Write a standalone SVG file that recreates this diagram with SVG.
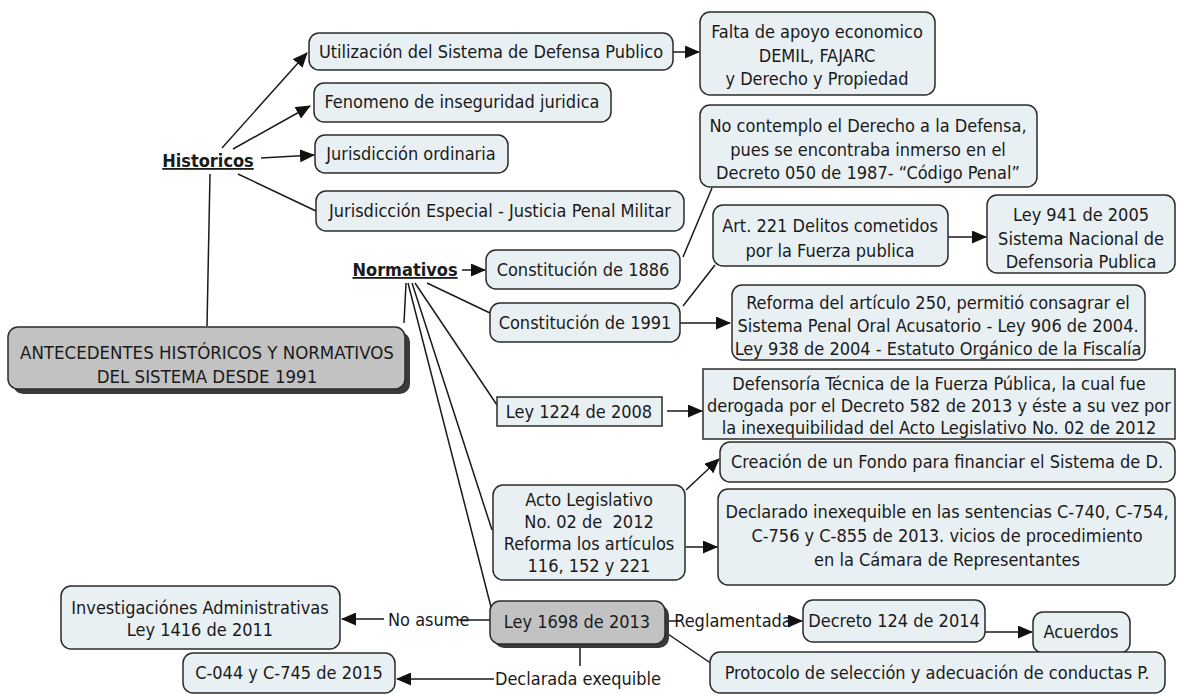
<svg xmlns="http://www.w3.org/2000/svg" width="1180" height="695" viewBox="0 0 1180 695">
<style>
.b{fill:#e9f0f3;stroke:#2b2b2b;stroke-width:1.5}
.g{fill:#c2c2c2;stroke:#2b2b2b;stroke-width:1.5}
.s{fill:#3a3a3a}
text{font-family:"DejaVu Sans Condensed","DejaVu Sans",sans-serif;font-size:18px;fill:#1a1a1a;text-anchor:middle}
.l{text-anchor:start}
.m{font-size:18.5px}
.p{white-space:pre}
.h{font-weight:bold;text-decoration:underline;font-size:18px}
.c line,.c path{stroke:#1a1a1a;stroke-width:1.5;fill:none}
.a{marker-end:url(#ar)}
</style>
<defs>
<marker id="ar" markerUnits="userSpaceOnUse" markerWidth="15" markerHeight="13" refX="14" refY="6.5" orient="auto">
<path d="M0,0 L15,6.5 L0,13 Z" fill="#111"/>
</marker>
</defs>
<rect width="1180" height="695" fill="#fff"/>
<g class="c">
<line x1="222" y1="148" x2="307" y2="53" class="a"/>
<line x1="233" y1="149" x2="310" y2="106" class="a"/>
<line x1="261" y1="158" x2="314" y2="155" class="a"/>
<line x1="238" y1="174" x2="316" y2="211"/>
<line x1="210" y1="174" x2="207" y2="326"/>
<line x1="673" y1="52" x2="699" y2="52" class="a"/>
<line x1="683" y1="257" x2="712" y2="188"/>
<line x1="683" y1="306" x2="715" y2="265"/>
<line x1="948" y1="237" x2="986" y2="237" class="a"/>
<line x1="462" y1="270" x2="485" y2="270" class="a"/>
<line x1="680" y1="323" x2="730" y2="323" class="a"/>
<line x1="427" y1="283" x2="490" y2="313"/>
<line x1="415" y1="283" x2="497" y2="405"/>
<line x1="412" y1="283" x2="492" y2="530"/>
<line x1="408" y1="283" x2="491" y2="607"/>
<line x1="406" y1="283" x2="404" y2="323"/>
<line x1="667" y1="411" x2="702" y2="411" class="a"/>
<line x1="686" y1="490" x2="719" y2="459" class="a"/>
<line x1="686" y1="547" x2="717" y2="547" class="a"/>
<line x1="458" y1="620" x2="490" y2="620"/>
<line x1="384" y1="619" x2="342" y2="619" class="a"/>
<line x1="580" y1="647" x2="580" y2="666"/>
<line x1="494" y1="679" x2="397" y2="679" class="a"/>
<line x1="667" y1="621" x2="680" y2="621"/>
<line x1="786" y1="621" x2="802" y2="621" class="a"/>
<line x1="985" y1="632" x2="1032" y2="632" class="a"/>
<line x1="665" y1="632" x2="712" y2="664"/>
</g>
<g id="main">
<rect x="13" y="332" width="397" height="62" rx="10" class="s"/>
<rect x="8" y="327" width="397" height="62" rx="10" class="g"/>
<text x="207" y="359" class="m">ANTECEDENTES HISTÓRICOS Y NORMATIVOS</text>
<text x="207" y="383" class="m">DEL SISTEMA DESDE 1991</text>
</g>
<g id="historicos"><text x="208" y="167" class="h">Historicos</text></g>
<g id="normativos"><text x="405" y="276" class="h">Normativos</text></g>
<g id="utilizacion"><rect x="309" y="33" width="364" height="37" rx="10" class="b"/><text x="491" y="58">Utilización del Sistema de Defensa Publico</text></g>
<g id="fenomeno"><rect x="314" y="83" width="297" height="39" rx="10" class="b"/><text x="462" y="108">Fenomeno de inseguridad juridica</text></g>
<g id="ordinaria"><rect x="315" y="135" width="193" height="38" rx="10" class="b"/><text x="411" y="160">Jurisdicción ordinaria</text></g>
<g id="especial"><rect x="316" y="191" width="368" height="40" rx="10" class="b"/><text x="500" y="217">Jurisdicción Especial - Justicia Penal Militar</text></g>
<g id="falta"><rect x="700" y="12" width="235" height="83" rx="10" class="b"/><text x="817" y="38">Falta de apoyo economico</text><text x="817" y="62">DEMIL, FAJARC</text><text x="817" y="85">y Derecho y Propiedad</text></g>
<g id="nocontemplo"><rect x="700" y="105" width="337" height="82" rx="10" class="b"/><text x="868" y="132">No contemplo el Derecho a la Defensa,</text><text x="868" y="156">pues se encontraba inmerso en el</text><text x="868" y="179">Decreto 050 de 1987- “Código Penal”</text></g>
<g id="art221"><rect x="713" y="205" width="235" height="61" rx="10" class="b"/><text x="830" y="232">Art. 221 Delitos cometidos</text><text x="830" y="257">por la Fuerza publica</text></g>
<g id="ley941"><rect x="987" y="195" width="188" height="78" rx="10" class="b"/><text x="1081" y="221">Ley 941 de 2005</text><text x="1081" y="245">Sistema Nacional de</text><text x="1081" y="268">Defensoria Publica</text></g>
<g id="c1886"><rect x="486" y="250" width="194" height="39" rx="10" class="b"/><text x="583" y="276">Constitución de 1886</text></g>
<g id="c1991"><rect x="490" y="303" width="190" height="39" rx="10" class="b"/><text x="585" y="329">Constitución de 1991</text></g>
<g id="reforma"><rect x="732" y="285" width="413" height="75" rx="10" class="b"/><text x="938" y="309">Reforma del artículo 250, permitió consagrar el</text><text x="938" y="332">Sistema Penal Oral Acusatorio - Ley 906 de 2004.</text><text x="938" y="355">Ley 938 de 2004 - Estatuto Orgánico de la Fiscalía</text></g>
<g id="ley1224"><rect x="497" y="397" width="165" height="29" class="b"/><text x="579" y="418">Ley 1224 de 2008</text></g>
<g id="defensoria"><rect x="703" y="369" width="472" height="70" class="b"/><text x="939" y="390">Defensoría Técnica de la Fuerza Pública, la cual fue</text><text x="939" y="412">derogada por el Decreto 582 de 2013 y éste a su vez por</text><text x="939" y="434">la inexequibilidad del Acto Legislativo No. 02 de 2012</text></g>
<g id="creacion"><rect x="720" y="442" width="455" height="40" rx="10" class="b"/><text x="947" y="468">Creación de un Fondo para financiar el Sistema de D.</text></g>
<g id="acto"><rect x="493" y="485" width="192" height="95" rx="10" class="b"/><text x="589" y="506">Acto Legislativo</text><text x="589" y="528" class="p">No. 02 de  2012</text><text x="589" y="550">Reforma los artículos</text><text x="589" y="572">116, 152 y 221</text></g>
<g id="declarado"><rect x="718" y="489" width="457" height="96" rx="10" class="b"/><text x="947" y="518">Declarado inexequible en las sentencias C-740, C-754,</text><text x="947" y="542">C-756 y C-855 de 2013. vicios de procedimiento</text><text x="947" y="566">en la Cámara de Representantes</text></g>
<g id="ley1698"><rect x="494" y="605" width="175" height="43" rx="10" class="s"/><rect x="490" y="601" width="175" height="43" rx="10" class="g"/><text x="577" y="628">Ley 1698 de 2013</text></g>
<g id="noasume"><text x="388" y="626" class="l">No asume</text></g>
<g id="declarada"><text x="578" y="685">Declarada exequible</text></g>
<g id="reglamentada"><text x="733" y="627">Reglamentada</text></g>
<g id="decreto"><rect x="803" y="600" width="182" height="42" rx="10" class="b"/><text x="894" y="627">Decreto 124 de 2014</text></g>
<g id="acuerdos"><rect x="1033" y="612" width="97" height="41" rx="10" class="b"/><text x="1081" y="638">Acuerdos</text></g>
<g id="protocolo"><rect x="710" y="652" width="455" height="41" rx="10" class="b"/><text x="937" y="679">Protocolo de selección y adecuación de conductas P.</text></g>
<g id="investigaciones"><rect x="61" y="586" width="279" height="63" rx="10" class="b"/><text x="200" y="614">Investigaciónes Administrativas</text><text x="200" y="636">Ley 1416 de 2011</text></g>
<g id="c044"><rect x="183" y="653" width="212" height="40" rx="10" class="b"/><text x="289" y="679">C-044 y C-745 de 2015</text></g>
</svg>
